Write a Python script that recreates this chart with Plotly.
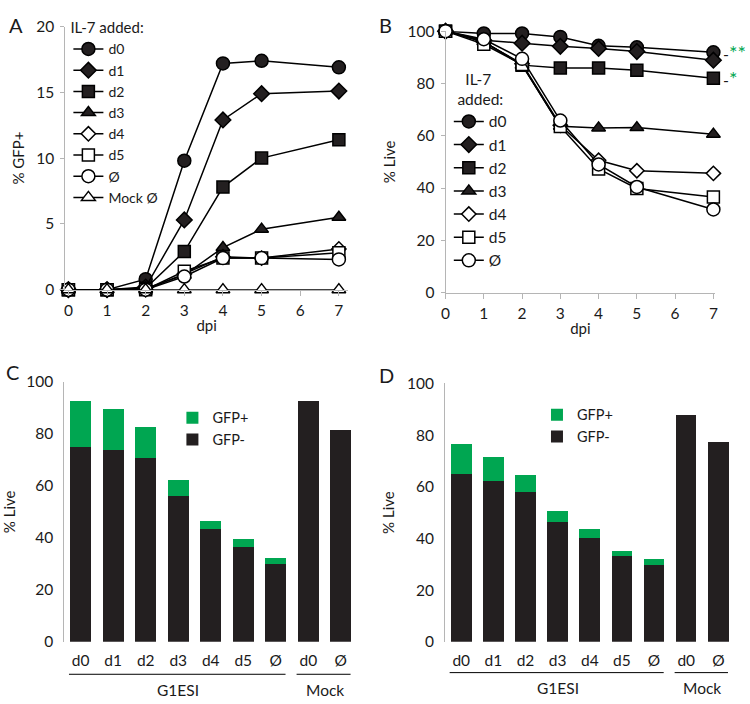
import plotly.graph_objects as go

FONT = "Lato, 'Open Sans', sans-serif"
TXT = "#1a1a1a"
AX = "#b5b5b5"
GREEN = "#00a651"
BLACK = "#231f20"

# ---------------- data ----------------
dpi = [0, 1, 2, 3, 4, 5, 7]

series_names_a = ["d0", "d1", "d2", "d3", "d4", "d5", "Ø", "Mock Ø"]
gfp_d0 = [0, 0, 0.8, 9.8, 17.2, 17.4, 16.9]
gfp_d1 = [0, 0, 0.2, 5.3, 12.9, 14.9, 15.1]
gfp_d2 = [0, 0, 0.1, 2.9, 7.8, 10.0, 11.4]
gfp_d3 = [0, 0, 0.1, 1.1, 3.2, 4.6, 5.5]
gfp_d4 = [0, 0, 0.0, 1.2, 2.5, 2.4, 3.1]
gfp_d5 = [0, 0, 0.0, 1.4, 2.4, 2.4, 2.8]
gfp_none = [0, 0, 0.0, 1.0, 2.4, 2.4, 2.3]
gfp_mock = [0, 0, 0, 0, 0, 0, 0]

series_names_b = ["d0", "d1", "d2", "d3", "d4", "d5", "Ø"]
live_d0 = [100, 99.1, 99.1, 97.8, 94.4, 93.8, 91.9]
live_d1 = [100, 96.5, 95.4, 94.2, 93.4, 92.2, 88.9]
live_d2 = [100, 96.0, 87.0, 85.9, 85.9, 85.0, 82.0]
live_d3 = [100, 96.0, 87.0, 63.6, 63.0, 63.1, 60.6]
live_d4 = [100, 95.8, 87.5, 64.0, 50.6, 46.6, 45.6]
live_d5 = [100, 95.0, 87.2, 63.5, 47.3, 39.8, 36.6]
live_none = [100, 96.9, 89.4, 65.8, 49.0, 40.4, 31.8]

bar_labels = ["d0", "d1", "d2", "d3", "d4", "d5", "Ø", "d0", "Ø"]
bar_groups = ["G1ESI"] * 7 + ["Mock"] * 2
c_gfp_neg = [75.0, 73.8, 70.9, 56.2, 43.4, 36.6, 29.9, 92.7, 81.5]
c_gfp_pos = [17.5, 15.8, 11.9, 6.0, 3.2, 2.8, 2.5, 0, 0]
d_gfp_neg = [64.8, 62.1, 57.9, 46.5, 40.3, 33.1, 29.8, 87.7, 77.2]
d_gfp_pos = [11.9, 9.6, 6.6, 4.3, 3.2, 2.2, 2.4, 0, 0]

symbols = ["circle", "diamond", "square", "triangle-up", "diamond", "square", "circle", "triangle-up"]
fills = [BLACK, BLACK, BLACK, BLACK, "white", "white", "white", "white"]
msizes = [13, 12, 12, 12, 11, 12, 13, 12]

fig = go.Figure()

gfp_series = [gfp_d0, gfp_d1, gfp_d2, gfp_d3, gfp_d4, gfp_d5, gfp_none, gfp_mock]
for i, (name, ys) in enumerate(zip(series_names_a, gfp_series)):
    fig.add_trace(go.Scatter(
        x=dpi, y=ys, name=name, mode="lines+markers",
        line=dict(color="black", width=1.5),
        marker=dict(symbol=symbols[i], size=msizes[i], color=fills[i],
                    line=dict(color="black", width=1.5)),
        xaxis="x", yaxis="y", legend="legend", cliponaxis=False))

live_series = [live_d0, live_d1, live_d2, live_d3, live_d4, live_d5, live_none]
for i, (name, ys) in enumerate(zip(series_names_b, live_series)):
    fig.add_trace(go.Scatter(
        x=dpi, y=ys, name=name, mode="lines+markers",
        line=dict(color="black", width=1.5),
        marker=dict(symbol=symbols[i], size=msizes[i], color=fills[i],
                    line=dict(color="black", width=1.5)),
        xaxis="x2", yaxis="y2", legend="legend2", cliponaxis=False))

idx = list(range(len(bar_labels)))
for neg, pos, xa, ya, lg in [(c_gfp_neg, c_gfp_pos, "x3", "y3", "legend3"),
                             (d_gfp_neg, d_gfp_pos, "x4", "y4", "legend4")]:
    fig.add_trace(go.Bar(x=idx, y=neg, name="GFP-", marker=dict(color=BLACK, line=dict(width=0)),
                         xaxis=xa, yaxis=ya, legend=lg))
    fig.add_trace(go.Bar(x=idx, y=pos, name="GFP+", marker=dict(color=GREEN, line=dict(width=0)),
                         xaxis=xa, yaxis=ya, legend=lg))

tickfont = dict(family=FONT, size=15.5, color=TXT)
titlefont = dict(family=FONT, size=15, color=TXT)

W, H = 750, 704
def px(x0, x1):
    return [x0 / W, x1 / W]
def py(top, bottom):
    return [1 - bottom / H, 1 - top / H]

def line_axis(domain, rng, dtick, title, standoff, anchor, ticklen=4, labstand=0):
    return dict(domain=domain, range=rng, dtick=dtick, anchor=anchor, showgrid=False, zeroline=False,
                showline=True, linecolor=AX, linewidth=1, ticks="outside", ticklen=ticklen,
                tickcolor=AX, tickfont=tickfont, ticklabelstandoff=labstand,
                title=dict(text=title, font=titlefont, standoff=standoff),
                fixedrange=True)

def bar_x(domain, anchor):
    return dict(domain=domain, range=[-0.5, 8.5], tickvals=idx, ticktext=bar_labels, anchor=anchor,
                showline=False, showgrid=False, zeroline=False, ticks="", tickfont=tickfont,
                ticklabelstandoff=8, fixedrange=True)

def bar_y(domain, anchor):
    return dict(domain=domain, range=[0, 100], dtick=20, anchor=anchor, showline=True, linecolor=AX,
                showgrid=False, zeroline=False, ticks="", tickfont=tickfont, ticklabelstandoff=7,
                title=dict(text="% Live", font=titlefont, standoff=8), fixedrange=True)

fig.update_layout(
    width=W, height=H, margin=dict(l=0, r=0, t=0, b=0),
    paper_bgcolor="white", plot_bgcolor="white",
    font=dict(family=FONT, color=TXT),
    barmode="stack", bargap=0.36,
    xaxis=line_axis(px(62, 347), [-0.077, 7.23], 1, "dpi", 2, "y", 5, 2),
    yaxis=line_axis(py(17, 287), [0, 20], 5, "% GFP+", 8, "x", 4, 3),
    xaxis2=line_axis(px(445.7, 718), [0, 7.05], 1, "dpi", 2, "y2", 5, 2),
    yaxis2=line_axis(py(21.7, 290), [0, 100], 20, "% Live", 8, "x2", 4, 3),
    xaxis3=bar_x(px(61, 356.4), "y3"),
    yaxis3=bar_y(py(381.7, 648.3), "x3"),
    xaxis4=bar_x(px(445.3, 737.3), "y4"),
    yaxis4=bar_y(py(383.3, 648.3), "x4"),
    legend=dict(x=65 / W, y=1 - 4 / H, xanchor="left", yanchor="top", bgcolor="rgba(0,0,0,0)",
                font=dict(family=FONT, size=14, color=TXT),
                title=dict(text="IL-7 added:", font=dict(family=FONT, size=15, color=TXT))),
    legend2=dict(x=449 / W, y=1 - 56 / H, xanchor="left", yanchor="top", bgcolor="rgba(0,0,0,0)",
                 font=dict(family=FONT, size=15.5, color=TXT),
                 title=dict(text="  IL-7<br>added:", side="top center",
                            font=dict(family=FONT, size=15.5, color=TXT))),
    legend3=dict(x=170 / W, y=1 - 402 / H, xanchor="left", yanchor="top", bgcolor="rgba(0,0,0,0)",
                 traceorder="reversed", font=dict(family=FONT, size=14.5, color=TXT)),
    legend4=dict(x=538 / W, y=1 - 399 / H, xanchor="left", yanchor="top", bgcolor="rgba(0,0,0,0)",
                 traceorder="reversed", font=dict(family=FONT, size=14.5, color=TXT)),
)

# panel letters
for letter, x, y in [("A", 3, 1), ("B", 377, 1), ("C", 0, 357), ("D", 377, 360)]:
    fig.add_annotation(text=letter, xref="paper", yref="paper", x=x / W, y=1 - y / H,
                       xanchor="left", yanchor="top", showarrow=False,
                       font=dict(family=FONT, size=20, color=TXT))

# significance marks
star_span = '<span style="color:%s;font-size:20px">%s</span>'
fig.add_annotation(text='-' + star_span % (GREEN, "**"), xref="x2", yref="y2",
                   x=dpi[-1], y=live_d0[-1], xanchor="left", yanchor="middle", xshift=8,
                   showarrow=False, font=dict(family=FONT, size=16, color=TXT))
fig.add_annotation(text='-' + star_span % (GREEN, "*"), xref="x2", yref="y2",
                   x=dpi[-1], y=live_d2[-1], xanchor="left", yanchor="middle", xshift=8,
                   showarrow=False, font=dict(family=FONT, size=16, color=TXT))

# group brackets under the bar charts
groups = []
for g in bar_groups:
    if g not in groups:
        groups.append(g)
for xa, line_y in [("x3", 681.7), ("x4", 680.0)]:
    for g in groups:
        members = [i for i, gg in enumerate(bar_groups) if gg == g]
        fig.add_shape(type="line", xref=xa, yref="paper", x0=members[0] - 0.36, x1=members[-1] + 0.3,
                      y0=1 - line_y / H, y1=1 - line_y / H, line=dict(color="black", width=1))
        fig.add_annotation(text=g, xref=xa, yref="paper", x=sum(members) / len(members),
                           y=1 - (line_y + 16) / H, xanchor="center", yanchor="middle",
                           showarrow=False, font=dict(family=FONT, size=15.5, color=TXT))

fig.write_html("out.html", post_script="document.body.style.margin='0';",
               config={"displayModeBar": False})
